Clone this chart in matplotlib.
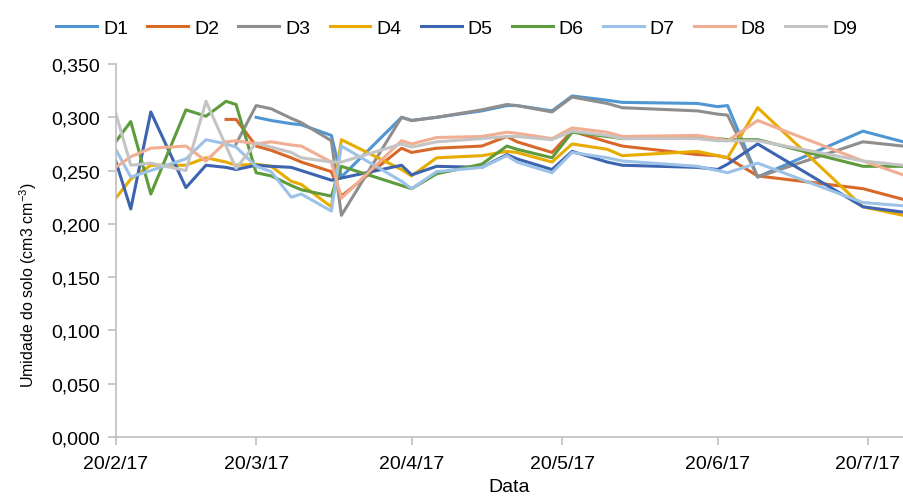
import numpy as np
import pandas as pd
import matplotlib
matplotlib.use("Agg")
import matplotlib.pyplot as plt
import matplotlib.dates as mdates
from matplotlib.ticker import FuncFormatter

nan = np.nan

# Sampling dates
dates = pd.to_datetime([
    "2017-02-20", "2017-02-23", "2017-02-27", "2017-03-06", "2017-03-10",
    "2017-03-14", "2017-03-16", "2017-03-20", "2017-03-23", "2017-03-27",
    "2017-03-29", "2017-04-04", "2017-04-06", "2017-04-18", "2017-04-20",
    "2017-04-25", "2017-05-04", "2017-05-09", "2017-05-11", "2017-05-18",
    "2017-05-22", "2017-05-29", "2017-06-01", "2017-06-16", "2017-06-20",
    "2017-06-22", "2017-06-28", "2017-07-19", "2017-07-27",
])

# Soil moisture (cm3 cm-3) per series
D1 = [nan, nan, nan, nan, nan, nan, nan, 0.300, 0.297, 0.294, 0.293, 0.283, 0.244, 0.300, 0.297,
      0.300, 0.306, 0.311, 0.311, 0.306, 0.320, 0.316, 0.314, 0.313, 0.310, 0.311, 0.244, 0.287, 0.277]
D2 = [nan, nan, nan, nan, nan, 0.298, 0.298, 0.273, 0.269, 0.262, 0.258, 0.249, 0.226, 0.271, 0.267,
      0.271, 0.273, 0.282, 0.277, 0.267, 0.287, 0.277, 0.273, 0.265, 0.264, 0.262, 0.245, 0.233, 0.223]
D3 = [nan, nan, nan, nan, nan, nan, 0.275, 0.311, 0.308, 0.299, 0.295, 0.278, 0.208, 0.300, 0.297,
      0.300, 0.307, 0.312, 0.311, 0.305, 0.319, 0.313, 0.309, 0.306, 0.303, 0.302, 0.244, 0.277, 0.273]
D4 = [0.224, 0.242, 0.255, 0.255, 0.262, 0.258, 0.255, 0.256, 0.254, 0.240, 0.237, 0.216, 0.279, 0.251, 0.245,
      0.262, 0.264, 0.268, 0.267, 0.258, 0.275, 0.270, 0.264, 0.268, 0.264, 0.262, 0.309, 0.216, 0.208]
D5 = [0.259, 0.214, 0.305, 0.234, 0.255, 0.253, 0.251, 0.255, 0.254, 0.253, 0.250, 0.241, 0.243, 0.255, 0.246,
      0.254, 0.253, 0.265, 0.261, 0.251, 0.268, 0.258, 0.255, 0.253, 0.251, 0.256, 0.275, 0.216, 0.211]
D6 = [0.277, 0.296, 0.228, 0.307, 0.301, 0.315, 0.312, 0.248, 0.245, 0.236, 0.232, 0.226, 0.254, 0.236, 0.233,
      0.247, 0.256, 0.273, 0.270, 0.262, 0.286, 0.282, 0.280, 0.281, 0.280, 0.279, 0.279, 0.254, 0.254]
D7 = [0.270, 0.244, 0.250, 0.261, 0.279, 0.275, 0.272, 0.254, 0.249, 0.225, 0.228, 0.212, 0.273, 0.240, 0.233,
      0.249, 0.253, 0.264, 0.258, 0.248, 0.267, 0.262, 0.259, 0.254, 0.250, 0.248, 0.257, 0.220, 0.217]
D8 = [0.253, 0.263, 0.271, 0.273, 0.259, 0.277, 0.278, 0.275, 0.277, 0.274, 0.273, 0.258, 0.224, 0.278, 0.275,
      0.281, 0.282, 0.286, 0.285, 0.280, 0.290, 0.286, 0.282, 0.283, 0.280, 0.278, 0.297, 0.259, 0.246]
D9 = [0.304, 0.255, 0.257, 0.250, 0.315, 0.273, 0.252, 0.276, 0.272, 0.267, 0.262, 0.258, 0.258, 0.275, 0.272,
      0.277, 0.280, 0.282, 0.282, 0.279, 0.287, 0.283, 0.280, 0.280, 0.278, 0.278, 0.278, 0.259, 0.255]

names = ["D1", "D2", "D3", "D4", "D5", "D6", "D7", "D8", "D9"]
series = [D1, D2, D3, D4, D5, D6, D7, D8, D9]
colors = ["#5096D2", "#D9692B", "#8E8E8E", "#E8AC00", "#3D64B0",
          "#5E9B3C", "#9CC2E8", "#F2AE92", "#C4C4C4"]

plt.rcParams["font.family"] = ["Liberation Sans", "DejaVu Sans"]
plt.rcParams["mathtext.fontset"] = "custom"
plt.rcParams["mathtext.rm"] = "Liberation Sans"
plt.rcParams["mathtext.it"] = "Liberation Sans"

fig = plt.figure(figsize=(9.04, 5.02), dpi=100)
ax = fig.add_axes([0.128, 0.1275, 0.871, 0.743])

for name, vals, c in zip(names, series, colors):
    ax.plot(dates, vals, color=c, lw=2.2, label=name, solid_joinstyle="round")

ax.set_xlim(dates[0], dates[-1])
ax.set_ylim(0, 0.35)
ax.set_yticks(np.arange(0, 0.351, 0.05))
ax.yaxis.set_major_formatter(FuncFormatter(lambda v, p: f"{v:.3f}".replace(".", ",")))

ticks = pd.to_datetime(["2017-02-20", "2017-03-20", "2017-04-20",
                        "2017-05-20", "2017-06-20", "2017-07-20"])
ax.set_xticks(ticks)
ax.xaxis.set_major_formatter(FuncFormatter(
    lambda v, p: (lambda d: f"{d.day}/{d.month}/{d.strftime('%y')}")(mdates.num2date(v))))

for s in ["top", "right"]:
    ax.spines[s].set_visible(False)
for s in ["left", "bottom"]:
    ax.spines[s].set_color("#BFBFBF")
    ax.spines[s].set_linewidth(1.2)
ax.tick_params(axis="both", colors="#BFBFBF", length=6, width=1.2, labelsize=14, labelcolor="black")
ax.tick_params(axis="x", pad=7)
ax.tick_params(axis="y", pad=5)

ax.set_ylabel("Umidade do solo (cm3 cm$^{-3}$)", fontsize=11.5)
ax.yaxis.set_label_coords(-0.098, 0.41)
ax.set_xlabel("Data", fontsize=14, labelpad=4)

fig.legend(loc="upper center", bbox_to_anchor=(0.505, 0.995), ncol=9, frameon=False,
           fontsize=14, handlelength=2.1, columnspacing=1.0, handletextpad=0.3)

fig.savefig("out.png", dpi=100)
